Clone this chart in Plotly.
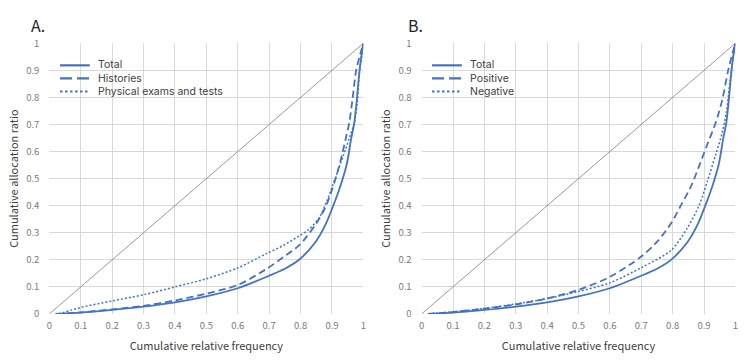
import plotly.graph_objects as go

# ---- data ----
ticks = [0, 0.1, 0.2, 0.3, 0.4, 0.5, 0.6, 0.7, 0.8, 0.9, 1]
tick_text = ["0", "0.1", "0.2", "0.3", "0.4", "0.5", "0.6", "0.7", "0.8", "0.9", "1"]

diag_x = [0, 1]
diag_y = [0, 1]

total_x = [0.02, 0.1, 0.2, 0.3, 0.4, 0.5, 0.6, 0.7, 0.75, 0.795, 0.847, 0.879, 0.9, 0.926, 0.947, 0.961, 0.971, 0.979, 0.986, 0.993, 1.0]
total_y = [0, 0.005, 0.015, 0.027, 0.043, 0.065, 0.095, 0.141, 0.167, 0.2, 0.265, 0.329, 0.388, 0.47, 0.553, 0.647, 0.706, 0.79, 0.88, 0.95, 1.0]

hist_x = [0.02, 0.1, 0.2, 0.3, 0.4, 0.5, 0.6, 0.69, 0.745, 0.795, 0.847, 0.879, 0.9, 0.916, 0.932, 0.947, 0.955, 0.965, 0.977, 0.99, 1.0]
hist_y = [0, 0.006, 0.017, 0.03, 0.05, 0.075, 0.107, 0.165, 0.21, 0.253, 0.329, 0.394, 0.459, 0.518, 0.588, 0.665, 0.706, 0.79, 0.9, 0.96, 1.0]

phys_x = [0.03, 0.1, 0.2, 0.3, 0.4, 0.5, 0.6, 0.69, 0.745, 0.795, 0.826, 0.858, 0.884, 0.91, 0.937, 0.958, 0.971, 0.981, 0.988, 0.995, 1.0]
phys_y = [0, 0.024, 0.048, 0.071, 0.10, 0.13, 0.17, 0.222, 0.253, 0.288, 0.312, 0.353, 0.418, 0.5, 0.588, 0.659, 0.706, 0.787, 0.9, 0.95, 1.0]

pos_x = [0.02, 0.1, 0.2, 0.3, 0.4, 0.5, 0.6, 0.7, 0.753, 0.795, 0.826, 0.858, 0.884, 0.91, 0.937, 0.958, 0.977, 0.99, 1.0]
pos_y = [0, 0.007, 0.02, 0.035, 0.057, 0.089, 0.137, 0.212, 0.27, 0.335, 0.4, 0.47, 0.545, 0.625, 0.706, 0.79, 0.9, 0.96, 1.0]

neg_x = [0.02, 0.1, 0.2, 0.3, 0.4, 0.5, 0.6, 0.7, 0.795, 0.847, 0.884, 0.91, 0.937, 0.958, 0.972, 0.982, 0.99, 1.0]
neg_y = [0, 0.008, 0.02, 0.037, 0.057, 0.083, 0.115, 0.171, 0.235, 0.318, 0.4, 0.488, 0.588, 0.67, 0.75, 0.85, 0.93, 1.0]

legend_a = ["Total", "Histories", "Physical exams and tests"]
legend_b = ["Total", "Positive", "Negative"]

BLUE = "#4472C4"
FONT = "Noto Sans CJK JP"
LEG_FONT = "Inter"
STYLES = [("solid", 1.8), ("7px,4px", 1.8), ("2px,2px", 1.5)]
KEY_DASH = ["solid", "12px,5px", "2.5px,2.5px"]

fig = go.Figure()

def add(x, y, name, style, xa, ya):
    dash, width = style
    fig.add_trace(go.Scatter(
        x=x, y=y, name=name, mode="lines",
        line=dict(color=BLUE, width=width, dash=dash, shape="spline", smoothing=0.8),
        xaxis=xa, yaxis=ya, showlegend=False))

# Panel A
fig.add_trace(go.Scatter(x=diag_x, y=diag_y, mode="lines", line=dict(color="#7f7f7f", width=0.8),
                         xaxis="x", yaxis="y", showlegend=False))
add(total_x, total_y, legend_a[0], STYLES[0], "x", "y")
add(hist_x, hist_y, legend_a[1], STYLES[1], "x", "y")
add(phys_x, phys_y, legend_a[2], STYLES[2], "x", "y")

# Panel B
fig.add_trace(go.Scatter(x=diag_x, y=diag_y, mode="lines", line=dict(color="#7f7f7f", width=0.8),
                         xaxis="x2", yaxis="y2", showlegend=False))
add(total_x, total_y, legend_b[0], STYLES[0], "x2", "y2")
add(pos_x, pos_y, legend_b[1], STYLES[1], "x2", "y2")
add(neg_x, neg_y, legend_b[2], STYLES[2], "x2", "y2")

W, H = 750, 361
ydom = [(H - 318.3) / H, (H - 36.7) / H]
axis_common = dict(range=[0, 1], tickvals=ticks, ticktext=tick_text, showgrid=True,
                   gridcolor="#d9d9d9", gridwidth=1, zeroline=False, showline=False,
                   tickfont=dict(size=9.5, color="#7a7a7a", family=FONT), ticks="",
                   fixedrange=True)
title_font = dict(size=11, color="#404040", family=FONT)

# manual legends (decorative keys + one multi-line label block)
LEG_FS = 10.5
row_gap = 1.3 * LEG_FS
mid_row = 73.3
shapes = []
annotations = []
for x0, names in ((57.5, legend_a), (432.5, legend_b)):
    for i in range(3):
        yy = 1 - (mid_row + (i - 1) * row_gap) / H
        shapes.append(dict(type="line", xref="paper", yref="paper", x0=x0 / W, x1=(x0 + 30) / W,
                           y0=yy, y1=yy, line=dict(color=BLUE, width=2.2 if i < 2 else 2, dash=KEY_DASH[i])))
    annotations.append(dict(text="<br>".join(names), x=(x0 + 36.5) / W, y=1 - mid_row / H,
                            xref="paper", yref="paper", xanchor="left", yanchor="middle", align="left",
                            showarrow=False, font=dict(size=LEG_FS, color="#404040", family=LEG_FONT)))

annotations += [
    dict(text="A.", x=26 / W, y=1 - 18 / H, xref="paper", yref="paper", xanchor="left", yanchor="middle",
         showarrow=False, font=dict(size=16, color="#262626", family=FONT)),
    dict(text="B.", x=406 / W, y=1 - 18 / H, xref="paper", yref="paper", xanchor="left", yanchor="middle",
         showarrow=False, font=dict(size=16, color="#262626", family=FONT)),
]

fig.update_layout(
    width=W, height=H,
    margin=dict(l=0, r=0, t=0, b=0),
    paper_bgcolor="white", plot_bgcolor="white",
    font=dict(family=FONT, color="#404040"),
    xaxis=dict(domain=[46.7 / W, 363.3 / W], anchor="y", ticklabelstandoff=5,
               title=dict(text="Cumulative relative frequency", font=title_font, standoff=10),
               **axis_common),
    yaxis=dict(domain=ydom, anchor="x", ticklabelstandoff=9,
               title=dict(text="Cumulative allocation ratio", font=title_font, standoff=5),
               **axis_common),
    xaxis2=dict(domain=[422 / W, 738.3 / W], anchor="y2", ticklabelstandoff=5,
                title=dict(text="Cumulative relative frequency", font=title_font, standoff=10),
                **axis_common),
    yaxis2=dict(domain=ydom, anchor="x2", ticklabelstandoff=9,
                title=dict(text="Cumulative allocation ratio", font=title_font, standoff=5),
                **axis_common),
    shapes=shapes,
    annotations=annotations,
    showlegend=False,
)

fig.write_html("out.html")
